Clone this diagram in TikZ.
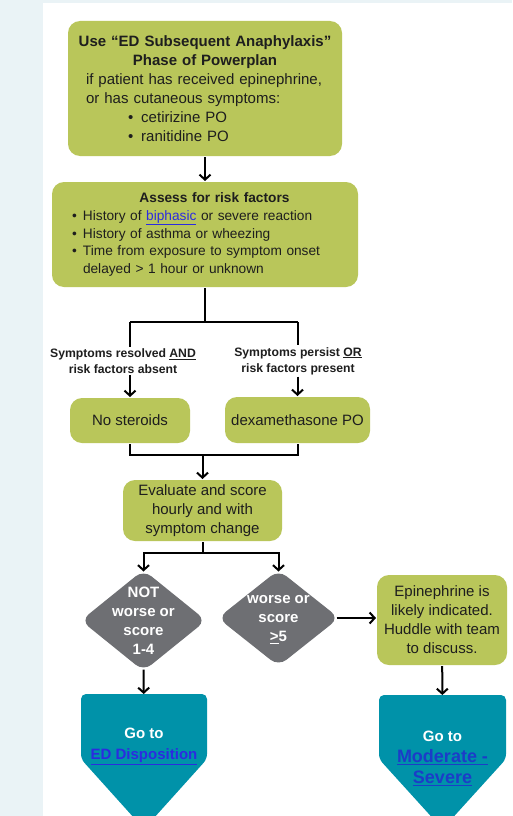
\documentclass[tikz,border=0pt]{standalone}
\usepackage{fontspec}
\setsansfont{Liberation Sans}
\usetikzlibrary{arrows.meta,shapes.geometric}
\definecolor{boxgreen}{HTML}{B9C65A}
\definecolor{goteal}{HTML}{0092A9}
\definecolor{decgray}{HTML}{6E6F73}
\definecolor{pagestrip}{HTML}{EAF3F6}
\definecolor{linkblue}{HTML}{2B2BE0}
\definecolor{linkdark}{HTML}{1C3CC8}
\definecolor{inktext}{HTML}{1E1E1E}
\begin{document}
\begin{tikzpicture}[x=1pt, y=-1pt, font=\sffamily, line width=2pt,
      >={Straight Barb[length=5pt,width=11pt]},
      gbox/.style={fill=boxgreen, rounded corners=12pt, text=inktext, inner sep=0pt, align=center, font=\sffamily\fontsize{15}{19}\selectfont},
      lab/.style={align=center, inner sep=1pt, text=inktext, font=\sffamily\bfseries\fontsize{12.2}{16}\selectfont},
      dec/.style={diamond, fill=decgray, rounded corners=10pt, inner sep=0pt},
      dectext/.style={align=center, text=white, inner sep=0pt, font=\sffamily\bfseries\fontsize{15}{19}\selectfont},
      goto/.style={inner sep=0pt},
      gotext/.style={align=center, text=white, inner sep=0pt, font=\sffamily\bfseries\fontsize{15}{21}\selectfont}]
    \useasboundingbox (0,0) rectangle (512,816);
    \clip (0,0) rectangle (512,816);
    \fill[pagestrip] (0,0) rectangle (512,816);
    \fill[white] (43,3) rectangle (512,816);
    \node[gbox, minimum width=274pt, minimum height=135pt, text width=238pt, align=left] (use) at (205,88.5) {\makebox[\linewidth]{\bfseries Use “ED Subsequent Anaphylaxis”}\\ \makebox[\linewidth]{\bfseries Phase of Powerplan}\\ if patient has received epinephrine,\\ or has cutaneous symptoms:\\ \hspace*{42pt}•\hspace{8pt}cetirizine PO\\ \hspace*{42pt}•\hspace{8pt}ranitidine PO};
    \node[gbox, minimum width=306pt, minimum height=105pt, text width=266pt, align=left, font=\sffamily\fontsize{13.7}{17.7}\selectfont] (risk) at (205,234.5) {\makebox[\linewidth]{\hspace{19pt}\bfseries Assess for risk factors}\\ \makebox[11pt][l]{•}History of {\color{linkblue}\underline{biphasic}} or severe reaction\\ \makebox[11pt][l]{•}History of asthma or wheezing\\ \makebox[11pt][l]{•}Time from exposure to symptom onset\\ \hspace*{11pt}delayed > 1 hour or unknown};
    \node[lab] (lab1) at (123,361) {Symptoms resolved \underline{AND}\\risk factors absent};
    \node[lab] (lab2) at (298,361) {Symptoms persist \underline{OR}\\risk factors present};
    \node[gbox, minimum width=120pt, minimum height=45pt] (nost) at (130,420.5) {No steroids};
    \node[gbox, minimum width=145pt, minimum height=46pt] (dexa) at (297.5,420) {dexamethasone PO};
    \node[gbox, minimum width=159pt, minimum height=61pt] (eval) at (202.5,510.5) {Evaluate and score\\hourly and with\\symptom change};
    \node[dec, minimum width=126pt, minimum height=102pt] (d1) at (143.5,620.5) {};
    \node[dectext] (d1t) at (143.5,621) {NOT\\worse or\\score\\1-4};
    \node[dec, minimum width=122pt, minimum height=97pt] (d2) at (278.5,618) {};
    \node[dectext] (d2t) at (278.5,619.5) {worse or\\score\\\underline{>}5};
    \node[gbox, minimum width=130pt, minimum height=90pt] (epi) at (442,620) {Epinephrine is\\likely indicated.\\Huddle with team\\to discuss.};
    \node[goto, minimum width=124pt, minimum height=63pt] (go1) at (144,726.5) {};
    \node[goto, minimum width=125pt, minimum height=62pt] (go2) at (442.5,727) {};
    \fill[goteal, rounded corners=5pt] ([yshift=-70pt]go1.south) -- (go1.south west) -- (go1.north west) -- (go1.north east) -- (go1.south east) -- cycle;
    \fill[goteal, rounded corners=5pt] ([yshift=-70pt]go2.south) -- (go2.south west) -- (go2.north west) -- (go2.north east) -- (go2.south east) -- cycle;
    \node[gotext] (go1t) at (144,746) {Go to\\{\color{linkblue}\underline{ED Disposition}}};
    \node[gotext] (go2t) at (442.5,758) {Go to\\{\fontsize{18}{22}\selectfont\color{linkdark}\underline{Moderate -}}\\{\fontsize{18}{22}\selectfont\color{linkdark}\underline{Severe}}};
    \coordinate (bra) at (205,322);
    \coordinate (jn) at (202.5,455);
    \coordinate (br2) at (202.5,553);
    \draw[->] (use) -- (risk);
    \draw (risk) -- (bra);
    \draw (nost.north |- bra) -- (dexa.north |- bra);
    \draw (nost.north |- bra) -- (nost.north |- lab1.north);
    \draw (dexa.north |- bra) -- (dexa.north |- lab2.north);
    \draw[->] (nost.north |- lab1.south) -- (nost);
    \draw[->] (dexa.north |- lab2.south) -- (dexa);
    \draw (nost) -- (nost.south |- jn) -- (dexa.south |- jn) -- (dexa);
    \draw[->] (eval.north |- jn) -- (eval);
    \draw (eval) -- (br2);
    \draw[->] (br2) -| ([yshift=-3pt]d1.north);
    \draw[->] (br2) -| ([yshift=-3pt]d2.north);
    \draw[->] ([xshift=-4pt]d2.east) -- (d2.east -| epi.west);
    \draw[->] ([yshift=3pt]d1.south) -- (go1);
    \draw[->] (epi) -- (go2);
  \end{tikzpicture}
\end{document}
